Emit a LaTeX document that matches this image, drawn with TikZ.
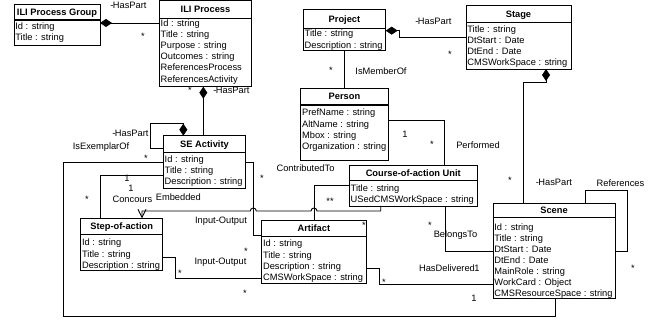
\documentclass[tikz,border=0pt]{standalone}
\usepackage{fontspec}
\setmainfont{Liberation Sans}
\usetikzlibrary{arrows.meta}
\tikzset{
  cls/.style={draw, line width=0.9pt, inner sep=0pt, outer sep=0pt, anchor=north west, fill=white},
  hdrline/.style={line width=1.1pt},
  ttl/.style={inner sep=0pt, font=\fontsize{9.3}{11.1}\selectfont\bfseries, text height=6.7pt, text depth=0pt},
  att/.style={inner sep=0pt, anchor=north west, align=left, font=\fontsize{9.3}{11.1}\selectfont},
  lbl/.style={inner sep=0pt, font=\fontsize{9.3}{11.1}\selectfont, text height=6.7pt, text depth=0pt},
  mult/.style={inner sep=0pt, font=\fontsize{9.3}{11.1}\selectfont, text height=10.7pt, text depth=0pt},
  conn/.style={draw, line width=0.9pt},
  comp/.style={conn, {Diamond[length=12pt,width=8pt]}-},
  nav/.style={conn, -{Straight Barb[length=8pt,width=8pt]}},
}
\newcommand\umlbox[9]{%
  \node[cls, minimum width={(#4-#2)*1pt}, minimum height={(#5-#3)*1pt}] (#1) at (#2,#3) {};
  \draw[hdrline] (#2,#6) -- (#4,#6);
  \node[ttl] (#1-t) at ({(#2+#4)/2},{(#3+#6)/2}) {#7};
  \node[att] (#1-a) at ({#2+1.2},#8) {#9};
}
\begin{document}
\begin{tikzpicture}[x=1pt,y=-1pt]
\useasboundingbox[fill=white] (0,0) rectangle (649,323);

% classes
\umlbox{grp}{14}{4.5}{100}{45}{20}{ILI Process Group}{22.3}{Id : string\\Title : string}
\umlbox{ilip}{159.3}{0.5}{251.7}{86.7}{18.3}{ILI Process}{19.6}{Id : string\\Title : string\\Purpose : string\\Outcomes : string\\ReferencesProcess\\ReferencesActivity}
\umlbox{sea}{163.3}{135.7}{245.7}{188.3}{152.3}{SE Activity}{155.6}{Id : string\\Title : string\\Description : string}
\umlbox{step}{80.7}{218.3}{162.7}{270.7}{234.3}{Step-of-action}{239}{Id : string\\Title : string\\Description : string}
\umlbox{art}{261.7}{220}{366}{283.3}{236.7}{Artifact}{240}{Id : string\\Title : string\\Description : string\\CMSWorkSpace : string}
\umlbox{coa}{349.3}{165}{477.3}{206}{180.7}{Course-of-action Unit}{184.3}{Title : string\\USedCMSWorkSpace : string}
\umlbox{person}{300.7}{88}{388.3}{160}{105}{Person}{109}{PrefName : string\\AltName : string\\Mbox : string\\Organization : string}
\umlbox{proj}{303.3}{9.3}{385.7}{50.7}{28.3}{Project}{30}{Title : string\\Description : string}
\umlbox{stage}{466}{5.7}{571}{69}{22.7}{Stage}{25.6}{Title : string\\DtStart : Date\\DtEnd : Date\\CMSWorkSpace : string}
\umlbox{scene}{493}{203.3}{615}{298.5}{217.5}{Scene}{223.3}{Id : string\\Title : string\\DtStart : Date\\DtEnd : Date\\MainRole : string\\WorkCard : Object\\CMSResourceSpace : string}

% connectors
\draw[comp] (grp.east |- 0,23) -- (ilip.west |- 0,23);
\draw[comp] (ilip.south -| 203.3,0) -- (sea.north -| 203.3,0);
\draw[comp] (sea.north -| 183.3,0) -- (183.3,123.7) -- (150.7,123.7) -- (150.7,148.3) -- (sea.west |- 0,148.3);
\draw[conn] (sea.west |- 0,162.3) -- (63.3,162.3) -- (63.3,316.7) -- (555,316.7) -- (scene.south -| 555,0);
\draw[conn] (sea.west |- 0,175.7) -- (100.3,175.7) -- (step.north -| 100.3,0);
\draw[nav] (coa.south -| 380.7,0) -- (380.7,211) -- (317,211) arc[start angle=0,end angle=180,radius=3pt] -- (256.3,211) arc[start angle=0,end angle=180,radius=3pt] -- (142,211) -- (step.north -| 142,0);
\draw[conn] (sea.east |- 0,162.3) -- (253.3,162.3) -- (253.3,235) -- (art.west |- 0,235);
\draw[conn] (coa.west |- 0,185) -- (314,185) -- (art.north -| 314,0);
\draw[conn] (step.east |- 0,257.3) -- (175,257.3) -- (175,278.3) -- (art.west |- 0,278.3);
\draw[conn] (person.east |- 0,120) -- (444.3,120) -- (coa.north -| 444.3,0);
\draw[conn] (proj.south -| 344.3,0) -- (person.north -| 344.3,0);
\draw[comp] (proj.east |- 0,30.7) -- (399.3,30.7) -- (399.3,37.3) -- (stage.west |- 0,37.3);
\draw[comp] (stage.south -| 546,0) -- (546,82.7) -- (523.3,82.7) -- (scene.north -| 523.3,0);
\draw[conn] (scene.north -| 585,0) -- (585,190.7) -- (627.7,190.7) -- (627.7,251.7) -- (scene.east |- 0,251.7);
\draw[conn] (coa.south -| 445,0) -- (445,251.7) -- (scene.west |- 0,251.7);
\draw[conn] (art.east |- 0,268.3) -- (379.3,268.3) -- (379.3,284.3) -- (scene.west |- 0,284.3);

% labels
\node[lbl] (l1) at (128.5,5) {-\kern-0.6pt HasPart};
\node[mult] (m1) at (143,34) {*};
\node[lbl] (l2) at (231.5,90) {-\kern-0.6pt HasPart};
\node[mult] (m2) at (190,88) {*};
\node[lbl] (l3) at (130.5,132.7) {-\kern-0.6pt HasPart};
\node[lbl] (l4) at (101,145.7) {IsExemplarOf};
\node[mult] (m3) at (146,156) {*};
\node[lbl] (l5) at (127,178) {1};
\node[mult] (m4) at (87,197) {*};
\node[lbl] (l6) at (132.5,199.3) {Concours};
\node[lbl] (l7) at (131,188.5) {1};
\node[lbl] (l8) at (178.3,197.3) {Embedded};
\node[lbl] (l9) at (305.5,168.3) {ContributedTo};
\node[mult] (m5) at (262,176) {*};
\node[lbl] (l10) at (221,220) {Input-Output};
\node[mult] (m6) at (330,199) {**};
\node[lbl] (l11) at (220.5,261) {Input-Output};
\node[mult] (m7) at (180,271) {*};
\node[mult] (m8) at (246,249) {*};
\node[mult] (m9) at (245,291) {*};
\node[lbl] (l12) at (405,134) {1};
\node[mult] (m10) at (432,142) {*};
\node[lbl] (l13) at (478,145) {Performed};
\node[mult] (m11) at (331,68) {*};
\node[lbl] (l14) at (381,71) {IsMemberOf};
\node[lbl] (l15) at (433.5,20.7) {-\kern-0.6pt HasPart};
\node[mult] (m13) at (450,52) {*};
\node[mult] (m14) at (510,178) {*};
\node[lbl] (l16) at (554,181.7) {-\kern-0.6pt HasPart};
\node[lbl] (l17) at (620.5,183) {References};
\node[mult] (m15) at (633,266) {*};
\node[mult] (m16) at (430,223) {*};
\node[lbl] (l18) at (455.5,234) {BelongsTo};
\node[mult] (m17) at (384,280) {*};
\node[lbl] (l19) at (447,268) {HasDelivered};
\node[lbl] (l20) at (477,268) {1};
\node[mult] (m18) at (364,223) {*};
\node[lbl] (l21) at (474,298) {1};
\end{tikzpicture}
\end{document}
